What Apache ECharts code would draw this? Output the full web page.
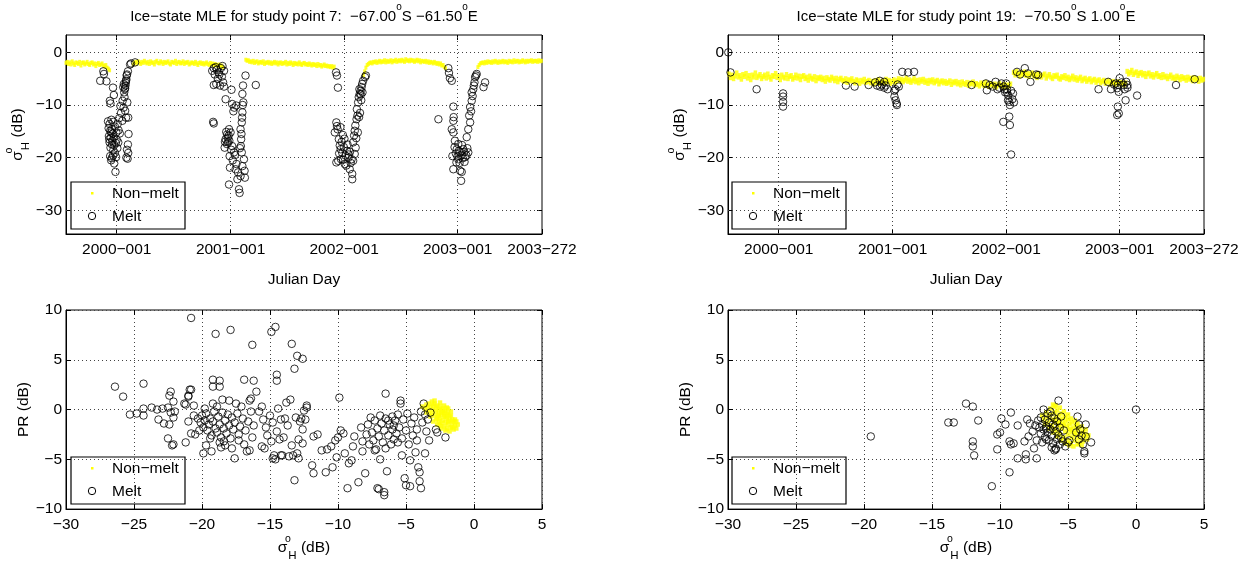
<!DOCTYPE html>
<html>
<head>
<meta charset="utf-8">
<script src="https://cdn.jsdelivr.net/npm/echarts@6/dist/echarts.min.js"></script>
<style>
  html, body { margin: 0; padding: 0; background: #fff; }
  #chart { width: 1247px; height: 563px; }
</style>
</head>
<body>
<div id="chart"></div>
<script>
// ---------- shared axis ticks ----------
// time axis in days counted from 2000-001
const yearTickDays = [0, 366, 731, 1096, 1367];
const yearTickLabels = ['2000−001', '2001−001', '2002−001', '2003−001', '2003−272'];
const dayRange = [-163, 1367];
const sigmaTicks = [-30, -20, -10, 0];
const sigmaRange = [-34.5, 3.3];
const sigmaScatterRange = [-30, 5];
const prRange = [-10, 10];

// ---------- study point 7: -67.00°S -61.50°E ----------
// non-melt sigma0_H, one value every 4 days, in runs starting at the given days
const p7NonMeltStart = [-163, 53, 415, 793, 1161];
const p7NonMeltStep = 4;
const p7NonMelt = [
  [-2.0,-1.8,-2.2,-1.9,-2.3,-1.7,-2.1,-2.4,-1.9,-2.0,-2.2,-1.8,-2.5,-2.0,-1.9,-2.3,-2.1,-1.8,-2.2,-2.4,
   -2.0,-1.9,-2.3,-2.1,-2.6,-2.2,-2.0,-2.4,-2.3,-2.1,-2.5,-2.7,-2.4,-2.9,-3.1,-3.4],
  [-2.3,-2.0,-1.8,-2.1,-1.7,-1.9,-2.2,-1.8,-2.0,-1.6,-1.9,-2.1,-1.8,-2.2,-1.7,-2.0,-1.9,-2.3,-1.8,-1.6,
   -2.0,-2.1,-1.7,-1.9,-2.2,-1.8,-2.0,-1.9,-1.7,-2.1,-2.3,-1.8,-1.9,-2.0,-1.6,-2.2,-1.9,-1.8,-2.1,-2.0,
   -1.7,-2.2,-1.9,-2.0,-1.8,-2.3,-2.1,-1.9,-2.0,-2.2,-1.8,-2.1,-2.4,-2.0,-1.9,-2.2,-2.0,-2.3,-2.1,-1.9,
   -2.2,-2.4,-2.0,-2.3,-2.1,-2.5,-2.2,-2.4,-2.6,-2.3,-2.7,-2.5,-2.8],
  [-1.4,-1.6,-1.5,-1.8,-1.7,-1.9,-1.6,-2.0,-1.8,-1.7,-2.1,-1.9,-1.8,-2.0,-1.7,-2.2,-1.9,-2.0,-1.8,-2.1,
   -1.9,-2.2,-2.0,-1.8,-2.1,-1.9,-2.3,-2.0,-1.9,-2.2,-2.0,-2.1,-1.8,-2.3,-2.0,-2.2,-1.9,-2.1,-2.4,-2.0,
   -2.2,-2.1,-2.3,-1.9,-2.2,-2.4,-2.1,-2.0,-2.3,-2.2,-2.4,-2.1,-2.3,-2.5,-2.2,-2.4,-2.3,-2.6,-2.2,-2.5,
   -2.4,-2.7,-2.5,-2.3,-2.6,-2.5,-2.7,-2.6,-2.8,-2.6,-2.9,-2.7],
  [-4.3,-3.6,-2.9,-2.4,-2.2,-2.0,-1.9,-2.1,-1.8,-1.9,-1.7,-2.0,-1.8,-1.6,-1.9,-1.7,-1.8,-1.5,-1.9,-1.6,
   -1.8,-1.7,-1.5,-1.9,-1.6,-1.7,-1.4,-1.8,-1.6,-1.5,-1.7,-1.4,-1.6,-1.8,-1.3,-1.6,-1.5,-1.7,-1.4,-1.6,
   -1.5,-1.8,-1.6,-1.4,-1.7,-1.5,-1.9,-1.6,-1.7,-1.8,-1.6,-1.9,-1.7,-2.0,-1.8,-1.9,-2.1,-1.8,-2.0,-2.2,
   -2.0,-2.3,-2.1,-2.5,-2.4,-2.8,-3.0],
  [-2.8,-2.4,-2.1,-2.0,-1.9,-2.1,-1.8,-2.0,-1.7,-1.9,-1.8,-2.0,-1.7,-1.9,-1.6,-1.8,-2.0,-1.7,-1.9,-1.8,
   -1.6,-1.9,-1.7,-1.8,-2.0,-1.6,-1.8,-1.7,-1.9,-1.5,-1.8,-1.7,-1.6,-1.9,-1.7,-1.8,-1.5,-1.7,-1.9,-1.6,
   -1.8,-1.6,-1.7,-1.5,-1.8,-1.6,-1.7,-1.6,-1.8,-1.5,-1.7,-1.6]
];
// melt observations: [day, sigma0_H]
const p7Melt = [
  [-43,-3.6],[-41,-4.1],[-53,-5.4],[-33,-5.5],[-12,-6.7],[-9,-8.1],[-22,-9.2],[-20,-9.7],[-28,-13.1],[-23,-13.6],
  [-17,-12.8],[-26,-14.4],[-21,-14.9],[-16,-14.6],[-11,-13.2],[-13,-15.4],[-25,-15.9],[-19,-16.2],[-9,-16.1],[-6,-14.1],
  [-23,-17.1],[-15,-17.5],[-3,-17.2],[-1,-15.2],[-20,-18.1],[-11,-18.6],[-6,-19.1],[-21,-19.7],[-16,-20.1],[-12,-19.6],
  [-8,-21.1],[-4,-22.7],[2,-18.2],[5,-17.1],[3,-13.6],[8,-12.5],[-18,-15.2],[-14,-16.8],[-8,-17.6],[-24,-16.5],
  [-2,-19.9],[-18,-20.5],[6,-14.8],[0,-16.6],[10,-15.4],[35,-20.2],[37,-19.1],[36,-17.5],[38,-15.5],[37,-12.4],
  [34,-9.5],[31,-20.0],[33,-18.5],[30,-12.4],[27,-11.1],[19,-9.2],[24,-7.6],[28,-6.3],[30,-5.4],[32,-4.4],
  [22,-10.5],[25,-8.5],[26,-7.0],[27,-6.8],[29,-5.8],[31,-5.1],[33,-4.2],[36,-3.6],[43,-2.3],[46,-2.1],
  [59,-1.9],[21,-6.6],[23,-6.0],[18,-13.0],[14,-11.5],[12,-10.2],
  [307,-3.5],[312,-3.0],[318,-2.8],[322,-3.3],[328,-3.8],[335,-3.0],[340,-2.6],[345,-3.5],[330,-4.2],[315,-4.2],
  [325,-5.0],[338,-4.6],[342,-5.7],[320,-6.0],[332,-6.3],[345,-6.5],[312,-6.2],[350,-8.9],[369,-7.1],[371,-9.8],
  [375,-11.2],[310,-13.2],[312,-13.5],[361,-14.6],[355,-15.6],[350,-16.5],[347,-18.1],[358,-17.1],[366,-15.2],[371,-17.8],
  [377,-19.0],[363,-19.7],[364,-21.9],[361,-25.1],[382,-22.2],[388,-24.1],[393,-26.0],[395,-26.7],[398,-23.5],[404,-21.6],
  [409,-20.3],[411,-22.5],[412,-23.8],[352,-15.1],[357,-16.2],[360,-15.8],[354,-17.4],[362,-16.8],[368,-18.5],[373,-20.5],
  [380,-19.5],[385,-21.2],[390,-22.8],[348,-17.0],[406,-6.3],[404,-7.9],[407,-9.5],[404,-11.4],[402,-13.3],[398,-14.6],
  [400,-16.5],[414,-4.4],[447,-6.2],[405,-10.0],[403,-12.4],[401,-15.5],[399,-17.8],[402,-19.0],[396,-18.2],[384,-10.1],
  [378,-10.5],
  [705,-3.8],[708,-4.4],[711,-6.7],[706,-13.3],[710,-14.6],[701,-15.2],[714,-16.5],[717,-17.7],[712,-20.6],[706,-20.9],
  [721,-20.3],[733,-21.2],[749,-22.2],[757,-23.1],[757,-24.1],[755,-20.3],[765,-19.3],[720,-18.4],[725,-19.1],[730,-18.0],
  [735,-19.6],[740,-18.7],[745,-20.0],[728,-20.4],[738,-21.5],[742,-17.5],[750,-18.9],[723,-17.0],[732,-16.4],[746,-19.4],
  [752,-21.0],[715,-19.2],[760,-20.6],[727,-15.7],[719,-14.2],[708,-14.0],[760,-17.1],[763,-15.8],[765,-14.9],[767,-13.9],
  [771,-12.7],[774,-12.0],[772,-10.8],[776,-9.5],[778,-8.5],[781,-7.9],[784,-7.3],[787,-6.6],[789,-6.0],[792,-5.4],
  [798,-4.7],[801,-4.4],[779,-12.3],[782,-11.5],[785,-8.0],[780,-7.0],[786,-9.1],[790,-7.6],[775,-15.2],[770,-16.3],
  [768,-18.1],
  [1066,-3.0],[1068,-3.9],[1071,-4.9],[1077,-5.4],[1082,-10.3],[1034,-12.7],[1082,-13.0],[1077,-14.6],[1082,-15.2],[1087,-16.8],
  [1098,-17.4],[1093,-18.4],[1104,-19.0],[1114,-18.4],[1130,-19.0],[1120,-19.9],[1098,-20.3],[1082,-22.2],[1104,-22.5],[1109,-22.7],
  [1107,-24.4],[1090,-19.2],[1095,-19.8],[1100,-18.7],[1108,-19.5],[1112,-20.1],[1117,-18.9],[1124,-19.6],[1127,-18.2],[1102,-21.0],
  [1092,-20.9],[1086,-18.0],[1110,-17.6],[1118,-20.8],[1079,-19.7],[1125,-16.1],[1130,-14.6],[1136,-13.3],[1133,-12.0],[1136,-10.4],
  [1141,-9.2],[1141,-7.6],[1146,-7.0],[1150,-5.7],[1152,-4.7],[1157,-4.1],[1179,-6.6],[1184,-5.7],[1144,-8.3],[1148,-6.3],
  [1139,-11.2],[1155,-4.4],[1083,-12.3]
];
// non-melt cloud in the sigma0_H / PR plane: [sigma0_H, PR]
const p7NonMeltPR = [
  [-3.5,0.5],[-3.4,0.2],[-3.3,0.6],[-3.2,0.3],[-3.1,0.8],[-3.0,0.4],[-3.0,0.0],[-3.3,-0.2],[-3.1,-0.4],[-2.9,0.6],
  [-2.8,0.2],[-2.8,-0.2],[-2.9,-0.6],[-2.7,0.4],[-2.6,0.0],[-2.6,-0.4],[-2.7,-0.8],[-2.5,0.3],[-2.4,-0.1],[-2.4,-0.5],
  [-2.5,-0.9],[-2.6,-1.2],[-2.3,0.1],[-2.2,-0.3],[-2.2,-0.7],[-2.3,-1.1],[-2.4,-1.4],[-2.1,-0.1],[-2.0,-0.5],[-2.0,-0.9],
  [-2.1,-1.3],[-2.2,-1.7],[-1.9,-0.3],[-1.8,-0.7],[-1.8,-1.1],[-1.9,-1.5],[-2.0,-1.9],[-1.7,-0.6],[-1.6,-1.0],[-1.6,-1.4],
  [-1.7,-1.8],[-1.5,-1.2],[-1.4,-1.6],[-1.5,-2.0],[-1.3,-1.9],[-1.4,-1.0],[-2.8,-1.0],[-3.2,-0.7],[-3.6,0.1],[-3.5,-0.3],
  [-2.9,0.9],[-2.5,0.7],[-2.2,0.4],[-1.9,0.1],[-1.7,-0.2],[-2.7,-1.5],[-2.4,-1.9],[-2.1,-2.1],[-1.8,-2.2],[-1.6,-1.8],
  [-3.0,-1.2],[-2.0,0.2],[-2.3,-0.3],[-2.6,-0.6],[-2.1,-0.7],[-1.9,-1.2],[-2.5,-1.6],[-1.2,-1.5],[-1.3,-1.2],[-3.8,0.3]
];
// melt observations in the sigma0_H / PR plane: [sigma0_H, PR]
const p7MeltPR = [
  [-26.4,2.3],[-25.8,1.3],[-24.3,2.6],[-25.3,-0.5],[-24.8,-0.4],[-24.3,0.1],[-24.3,-0.6],[-23.7,0.2],[-23.3,0.0],[-22.9,0.1],
  [-22.5,0.2],[-23.2,-1.0],[-22.8,-1.4],[-22.4,-1.5],[-22.1,-0.8],[-22.3,-0.3],[-22.0,-0.2],[-22.4,1.4],[-22.3,1.8],[-22.1,0.8],
  [-22.5,-2.9],[-22.2,-3.6],[-22.1,-3.5],[-21.2,-3.3],[-21.0,1.4],[-21.2,0.5],[-20.9,2.0],[-21.0,-1.2],[-21.3,0.6],[-20.8,-2.4],
  [-20.5,-2.5],[-20.6,-0.6],[-20.6,0.4],
  [-20.3,-0.9],[-20.1,-1.3],[-20.0,-0.6],[-19.9,-1.8],[-19.8,-1.1],[-19.7,-0.4],[-19.6,-2.1],[-19.5,-1.5],[-19.4,-0.9],[-19.3,-2.6],
  [-19.2,-1.2],[-19.1,-0.2],[-19.0,-1.9],[-18.9,-2.3],[-18.8,-0.7],[-18.7,-1.5],[-18.6,-2.8],[-18.5,-0.3],[-18.4,-1.9],[-18.3,-1.1],
  [-18.2,-2.4],[-18.1,-0.5],[-18.0,-1.6],[-17.9,-2.9],[-17.8,-0.8],[-17.7,-2.0],[-17.6,-1.3],[-17.4,-0.4],[-17.3,-2.5],[-17.2,-1.7],
  [-17.0,-0.9],[-16.9,-3.5],[-16.8,-2.1],[-16.6,-1.2],[-16.5,-4.1],[-16.4,-0.2],[-16.3,-2.8],[-16.2,-1.6],
  [-20.2,-2.1],[-19.8,0.1],[-19.4,-2.9],[-19.2,0.6],[-18.9,0.3],[-18.7,-3.3],[-18.5,1.0],[-18.3,-3.6],[-18.0,0.9],[-17.8,-3.9],
  [-17.5,0.6],[-17.3,-3.1],[-17.1,0.3],[-16.7,-4.2],[-16.5,0.9],[-19.7,-3.6],[-19.9,-4.4],[-19.3,-4.2],[-18.6,-3.8],[-17.6,-4.9],
  [-18.4,-3.2],
  [-20.8,9.2],[-19.0,7.6],[-17.9,8.0],[-16.3,6.5],[-14.9,7.8],[-14.6,8.3],[-13.4,6.6],[-13.0,5.4],[-12.6,5.1],[-13.2,4.1],
  [-19.2,3.0],[-18.7,2.9],[-19.2,2.3],[-18.7,2.3],[-16.9,3.0],[-16.2,2.9],[-14.5,3.5],[-14.5,2.9],[-16.0,1.8],[-16.4,1.1],
  [-20.8,2.0],[-21.0,1.3],
  [-15.8,-0.2],[-15.6,0.3],[-15.5,-1.0],[-15.3,-1.8],[-15.2,-2.6],[-15.0,-0.6],[-14.9,-3.2],[-14.8,-1.3],[-14.7,-4.6],[-14.6,-5.0],
  [-14.5,-2.2],[-14.4,0.1],[-14.3,-3.0],[-14.2,-1.0],[-14.1,-4.6],[-14.0,-2.8],[-13.9,-0.9],[-13.8,0.7],[-13.7,-1.6],[-13.5,1.0],
  [-13.4,-3.6],[-13.3,-4.6],[-13.2,-7.1],[-13.1,-0.8],[-13.0,-4.4],[-12.9,-3.0],[-12.8,-1.2],[-12.7,-0.9],[-12.6,-3.4],[-12.5,-0.1],
  [-12.4,-1.0],[-12.3,0.4],[-12.3,0.2],[-12.6,-2.0],[-15.6,-3.7],[-15.4,-3.9],[-14.8,-4.9],[-14.2,-4.6],[-13.6,-4.7],[-12.9,-4.9],
  [-11.8,-2.7],[-11.9,-5.6],[-11.8,-6.4],[-11.5,-2.5],[-11.2,-4.1],[-10.9,-6.3],[-10.8,-4.0],[-10.5,-3.7],[-10.4,-5.8],[-10.2,-3.1],
  [-10.0,-2.8],[-10.1,-4.8],[-9.9,1.2],[-9.8,-2.1],[-9.6,-2.4],[-9.5,-4.4],[-9.3,-7.9],[-9.2,-5.4],[-9.0,-5.1],[-8.9,-3.7],
  [-8.8,-2.7],[-8.5,-7.3],[-8.3,-1.8],[-8.2,-3.2],[-8.0,-6.4],[-8.2,-4.2],
  [-7.8,-1.5],[-7.6,-0.8],[-7.5,-2.3],[-7.4,-3.1],[-7.3,-1.1],[-7.2,-4.0],[-7.1,-1.9],[-7.0,-2.7],[-6.9,-0.6],[-6.9,-5.0],
  [-6.8,-1.4],[-6.7,-3.3],[-6.6,-2.1],[-6.5,1.6],[-6.5,-0.9],[-6.4,-6.2],[-6.3,-2.6],[-6.2,-1.5],[-6.1,-3.5],[-6.0,-0.7],
  [-6.0,-2.0],[-5.9,-3.0],[-5.8,-1.1],[-5.7,-2.4],[-5.6,-0.5],[-5.5,-1.8],[-5.4,0.9],[-5.4,0.6],[-5.3,-2.9],[-5.3,-4.6],
  [-5.2,-1.0],[-5.1,-6.9],[-5.0,-7.6],[-5.0,-2.1],[-4.9,-0.4],[-4.8,-3.5],[-4.7,-7.7],[-4.7,-5.1],[-4.6,-1.4],[-4.5,-2.6],
  [-4.4,-0.8],[-4.3,-4.3],[-4.2,-2.0],[-4.1,-5.8],[-4.0,-6.3],[-4.0,-7.2],[-3.9,-7.9],[-3.9,-0.2],[-3.8,-1.3],[-3.7,0.6],
  [-3.6,-0.5],[-3.5,-2.2],[-3.4,-1.0],[-3.3,-3.1],[-3.2,-0.3],[-2.8,-2.0],[-2.7,-2.3],[-2.1,-2.8],[-7.0,-8.0],[-6.6,-8.6],
  [-6.6,-8.3],[-7.1,-7.9],[-7.7,-3.5],[-7.9,-2.5],[-6.3,-1.1],[-5.9,-1.6],[-6.5,-3.9],[-7.3,-4.1],[-5.6,-3.3],[-3.6,-4.4],
  [-4.2,-3.1]
];

// ---------- study point 19: -70.50°S 1.00°E ----------
const p19NonMeltStart = [-160, 755, 1120];
const p19NonMeltStep = 5;
const p19NonMelt = [
  [-4.1,-4.8,-4.3,-5.0,-4.5,-3.9,-4.7,-4.4,-5.1,-4.2,-4.6,-4.0,-4.9,-4.4,-5.2,-4.3,-4.7,-3.9,-4.8,-4.5,
   -4.2,-5.0,-4.6,-4.3,-4.9,-4.1,-4.7,-5.1,-4.4,-4.6,-4.0,-4.8,-4.5,-5.2,-4.3,-4.7,-4.9,-4.2,-5.0,-4.6,
   -4.4,-5.1,-4.8,-4.3,-4.9,-4.5,-5.2,-4.6,-4.4,-5.0,-4.7,-5.3,-4.5,-4.9,-5.1,-4.6,-5.4,-4.8,-5.0,-4.7,
   -5.2,-4.9,-5.5,-4.8,-5.1,-5.3,-4.7,-5.0,-5.4,-4.9,-5.6,-5.1,-4.9,-5.3,-5.5,-5.0,-5.7,-5.2,-5.4,-5.0,
   -5.5,-5.8,-5.2,-5.4,-5.9,-5.3,-5.6,-5.1,-5.7,-5.5,-5.3,-5.8,-5.5,-6.0,-5.4,-5.7,-5.2,-5.9,-5.6,-5.4,
   -5.8,-5.1,-5.6,-5.3,-5.9,-5.5,-5.2,-5.7,-5.4,-5.0,-5.4,-5.1,-5.6,-5.3,-4.9,-5.5,-5.2,-5.7,-5.4,-5.0,
   -5.6,-5.3,-5.8,-5.2,-5.5,-5.1,-5.7,-5.4,-5.9,-5.3,-5.6,-5.2,-5.8,-5.5,-5.3,-6.0,-5.6,-5.4,-5.8,-5.5,
   -5.9,-5.7,-5.4,-6.1,-5.6,-5.8,-5.5,-6.0,-5.7,-6.2,-5.6,-5.9,-6.1,-5.7,-6.3,-5.8,-6.0,-5.6,-6.2,-5.9,
   -6.1,-6.4,-5.8,-6.0,-6.3,-5.7,-6.2,-6.5,-5.9,-6.1,-6.4,-6.0,-6.6,-6.2,-5.9,-6.3,-6.5,-6.1,-6.7,-6.2,
   -6.4,-6.0],
  [-3.8,-4.3,-3.6,-4.1,-4.5,-3.9,-4.2,-3.7,-4.4,-4.0,-4.6,-4.1,-3.9,-4.5,-4.2,-4.8,-4.0,-4.4,-4.7,-4.3,
   -4.1,-4.9,-4.5,-4.2,-4.7,-5.0,-4.4,-4.6,-4.3,-4.9,-5.1,-4.6,-4.8,-4.4,-5.0,-4.7,-5.2,-4.9,-4.5,-5.1,
   -4.8,-5.3,-5.0,-4.7,-5.4,-5.1,-4.9,-5.5,-5.2,-5.0,-5.6,-5.3,-5.1,-5.7,-5.4,-5.2,-5.8,-5.5,-5.3,-5.9,
   -5.6,-5.4,-6.0,-5.7,-5.5,-6.1,-5.8,-5.6,-6.0,-5.7,-5.9,-6.2,-5.8],
  [-3.6,-4.1,-3.8,-3.4,-4.2,-3.9,-3.7,-4.4,-4.0,-3.8,-4.3,-4.0,-4.6,-4.1,-3.9,-4.5,-4.2,-4.7,-4.3,-4.0,
   -4.6,-4.4,-4.8,-4.2,-4.7,-4.5,-5.0,-4.6,-4.3,-4.9,-4.7,-5.1,-4.5,-4.8,-5.2,-4.6,-5.0,-4.8,-5.3,-4.7,
   -5.1,-4.9,-5.4,-4.8,-5.2,-5.0,-5.5,-4.9,-5.3,-5.1]
];
const p19Melt = [
  [-162,0.0],[-155,-3.8],[-71,-7.0],[14,-7.8],[14,-8.4],[14,-9.4],[14,-10.3],[216,-6.3],[244,-6.5],[289,-6.2],
  [310,-5.7],[316,-6.3],[325,-5.4],[331,-6.1],[339,-5.6],[344,-6.3],[339,-6.7],[350,-7.0],[326,-6.5],[372,-7.3],
  [375,-7.0],[376,-9.1],[379,-9.7],[380,-10.0],[382,-6.1],[386,-6.5],[372,-8.4],[397,-3.7],[416,-3.8],[435,-3.7],
  [620,-6.2],[666,-5.9],[669,-7.2],[678,-6.2],[688,-6.5],[697,-5.6],[703,-7.0],[709,-6.7],[716,-5.9],[722,-6.5],
  [726,-7.0],[731,-5.9],[734,-7.6],[738,-8.2],[741,-9.4],[743,-10.0],[747,-7.3],[751,-8.9],[753,-7.8],[756,-9.5],
  [722,-13.2],[741,-12.2],[743,-13.8],[747,-19.4],[734,-7.0],[728,-7.6],[737,-9.1],[766,-3.7],[776,-4.2],[791,-3.0],
  [801,-4.0],[809,-5.6],[828,-4.2],[834,-4.3],
  [1028,-7.0],[1059,-5.6],[1068,-7.0],[1078,-6.1],[1084,-5.9],[1088,-6.8],[1090,-6.2],[1090,-10.3],[1088,-11.9],[1093,-11.6],
  [1096,-4.9],[1102,-5.7],[1109,-6.2],[1112,-7.0],[1115,-9.1],[1117,-5.6],[1121,-6.2],[1121,-6.7],[1152,-8.2],[1093,-7.5],
  [1277,-6.2],[1337,-5.1]
];
const p19NonMeltPR = [
  [-6.9,-0.6],[-6.8,-1.0],[-6.6,-0.3],[-6.5,-0.8],[-6.5,-1.3],[-6.3,0.1],[-6.3,-0.5],[-6.2,-1.0],[-6.2,-1.6],[-6.0,0.3],
  [-6.0,-0.3],[-5.9,-0.8],[-5.9,-1.3],[-6.0,-1.9],[-5.8,-0.1],[-5.7,-0.6],[-5.6,-1.1],[-5.7,-1.6],[-5.8,-2.2],[-5.5,-0.4],
  [-5.4,-0.9],[-5.4,-1.4],[-5.5,-1.9],[-5.6,-2.5],[-5.2,-0.7],[-5.2,-1.2],[-5.1,-1.7],[-5.2,-2.2],[-5.3,-2.8],[-5.0,-1.0],
  [-4.9,-1.5],[-4.9,-2.0],[-5.0,-2.5],[-5.0,-3.1],[-4.7,-1.3],[-4.6,-1.8],[-4.7,-2.3],[-4.7,-2.8],[-4.8,-3.4],[-4.4,-1.6],
  [-4.4,-2.1],[-4.4,-2.6],[-4.5,-3.1],[-4.2,-1.9],[-4.1,-2.4],[-4.2,-2.9],[-4.2,-3.4],[-3.9,-2.2],[-3.9,-2.7],[-3.9,-3.2],
  [-3.7,-2.5],[-3.6,-3.0],[-3.5,-2.6],[-6.1,0.5],[-5.9,0.4],[-5.6,0.2],[-5.3,-0.2],[-5.0,-0.5],[-4.8,-0.9],[-4.5,-1.1],
  [-4.3,-1.4],[-6.4,-1.9],[-6.1,-2.3],[-5.8,-2.7],[-5.5,-3.1],[-5.2,-3.4],[-4.9,-3.6],[-4.6,-3.7],[-4.3,-3.5],[-4.0,-3.6],
  [-6.7,-1.5],[-5.3,-1.6],[-4.8,-2.0],[-5.6,-1.4],[-4.5,-2.4],[-6.0,-1.1],[-4.0,-1.7],[-3.7,-2.0]
];
const p19MeltPR = [
  [-19.5,-2.7],[-12.5,0.6],[-12.0,0.3],[-13.8,-1.3],[-13.4,-1.3],[-11.6,-1.1],[-12.0,-3.2],[-12.0,-3.7],[-11.9,-4.6],[-10.6,-7.7],
  [-9.3,-6.3],[-10.2,-4.0],[-10.2,-2.5],[-10.0,-2.3],[-9.9,-0.9],[-9.6,-1.5],[-9.2,-0.3],[-9.3,-3.2],[-9.2,-3.5],[-9.0,-3.4],
  [-8.7,-1.6],[-8.7,-4.9],[-8.2,-3.2],[-8.1,-4.5],[-8.1,-5.0],[-8.0,-1.0],[-7.8,-1.4],[-7.6,-2.2],[-7.5,-3.9],[-7.3,-4.9],
  [-7.2,-1.1],[-7.1,-1.8],[-7.0,-0.8],[-7.0,-2.4],[-6.9,-1.5],[-6.8,0.0],[-6.8,-2.0],[-6.7,-1.0],[-6.7,-2.8],[-6.6,-1.7],
  [-6.5,-0.4],[-6.5,-2.3],[-6.4,-1.3],[-6.4,-3.1],[-6.3,-0.2],[-6.3,-2.0],[-6.2,-0.6],[-6.2,-2.6],[-6.1,-1.5],[-6.1,-3.4],
  [-6.0,-0.9],[-6.0,-4.1],[-5.9,-2.2],[-5.9,-3.9],[-5.8,-1.2],[-5.8,-3.0],[-5.7,0.9],[-5.7,-2.6],[-5.6,-1.8],[-5.6,-3.5],
  [-5.5,-2.9],[-5.5,-0.7],[-5.4,-3.2],[-5.3,-2.1],[-5.2,-3.7],[-5.0,-3.3],[-4.9,-3.1],[-6.6,-3.0],[-6.9,-3.3],[-7.3,-3.1],
  [-4.3,-0.7],[-4.2,-1.5],[-4.1,-2.0],[-4.0,-2.6],[-3.9,-3.5],[-3.8,-4.2],[-3.8,-4.4],[-3.7,-1.5],[-3.7,-2.7],[-3.3,-3.3],
  [-4.4,-2.3],[-4.2,-3.0],[0.0,0.0],[-7.4,-1.6],[-7.9,-2.7],[-6.2,-3.8],[-5.9,-4.0],[-6.0,-1.7],[-6.6,-1.9]
];

// ---------- helpers ----------
const FONT = "'Liberation Sans', Arial, Helvetica, sans-serif";
const FS = 15.5;
const INK = '#000';
const YELLOW = '#ffff00';
const GRID_DOTS = { color: '#444', type: [1, 3], width: 1 };

// expand the regularly sampled runs into [day, value] points
function sampledRuns(starts, step, runs) {
  const pts = [];
  runs.forEach((vals, r) => vals.forEach((v, i) => pts.push([starts[r] + i * step, v])));
  return pts;
}
const minus = v => String(v).replace('-', '−');

const gridBoxes = [
  { left: 66,  top: 35,  width: 476, height: 199 },
  { left: 728, top: 35,  width: 476, height: 199 },
  { left: 66,  top: 310, width: 476, height: 200 },
  { left: 728, top: 310, width: 476, height: 200 }
];

const labelStyle = { color: INK, fontFamily: FONT, fontSize: FS, fontWeight: 'normal' };
const sigmaName = '{s|σ}{o|o}{h|H}{s| (dB)}';
const sigmaRich = {
  s: { fontFamily: FONT, fontSize: FS, color: INK, lineHeight: 28, verticalAlign: 'middle' },
  o: { fontFamily: FONT, fontSize: 10.5, color: INK, lineHeight: 11, verticalAlign: 'top', width: 1 },
  h: { fontFamily: FONT, fontSize: 11.5, color: INK, lineHeight: 12, verticalAlign: 'bottom' }
};

function tickCfg(custom) {
  const t = { show: true, inside: true, length: 5, lineStyle: { color: INK, width: 1 } };
  if (custom) t.customValues = custom;
  return t;
}
const axisLineCfg = { show: true, onZero: false, lineStyle: { color: INK, width: 1 } };

const xAxes = [];
const yAxes = [];
// top row: time series
[0, 1].forEach(g => {
  xAxes.push({
    type: 'value', gridIndex: g, min: dayRange[0], max: dayRange[1], position: 'bottom',
    name: 'Julian Day', nameLocation: 'middle', nameGap: 38, nameTextStyle: labelStyle,
    axisLine: axisLineCfg,
    axisTick: tickCfg(yearTickDays),
    axisLabel: Object.assign({ customValues: yearTickDays, margin: 8,
      formatter: v => yearTickLabels[yearTickDays.indexOf(v)] }, labelStyle),
    splitLine: { show: false }
  });
  xAxes.push({
    type: 'value', gridIndex: g, min: dayRange[0], max: dayRange[1], position: 'top',
    axisLine: { show: false, onZero: false }, axisTick: tickCfg(yearTickDays),
    axisLabel: { show: false }, splitLine: { show: false }
  });
  yAxes.push({
    type: 'value', gridIndex: g, min: sigmaRange[0], max: sigmaRange[1], position: 'left',
    name: sigmaName, nameLocation: 'middle', nameGap: 33, nameRotate: 90,
    nameTextStyle: { rich: sigmaRich },
    axisLine: axisLineCfg,
    axisTick: tickCfg(sigmaTicks),
    axisLabel: Object.assign({ customValues: sigmaTicks, margin: 4, formatter: minus }, labelStyle),
    splitLine: { show: false }
  });
  yAxes.push({
    type: 'value', gridIndex: g, min: sigmaRange[0], max: sigmaRange[1], position: 'right',
    axisLine: { show: false, onZero: false }, axisTick: tickCfg(sigmaTicks),
    axisLabel: { show: false }, splitLine: { show: false }
  });
});
// bottom row: sigma0_H against PR
[2, 3].forEach(g => {
  xAxes.push({
    type: 'value', gridIndex: g, min: sigmaScatterRange[0], max: sigmaScatterRange[1], interval: 5, position: 'bottom',
    name: sigmaName, nameLocation: 'middle', nameGap: 22, nameTextStyle: { rich: sigmaRich },
    axisLine: axisLineCfg,
    axisTick: tickCfg(),
    axisLabel: Object.assign({ margin: 8, formatter: minus }, labelStyle),
    splitLine: { show: true, lineStyle: GRID_DOTS }
  });
  xAxes.push({
    type: 'value', gridIndex: g, min: sigmaScatterRange[0], max: sigmaScatterRange[1], interval: 5, position: 'top',
    axisLine: { show: false, onZero: false }, axisTick: tickCfg(), axisLabel: { show: false }, splitLine: { show: false }
  });
  yAxes.push({
    type: 'value', gridIndex: g, min: prRange[0], max: prRange[1], interval: 5, position: 'left',
    name: 'PR (dB)', nameLocation: 'middle', nameGap: 33, nameRotate: 90, nameTextStyle: labelStyle,
    axisLine: axisLineCfg,
    axisTick: tickCfg(),
    axisLabel: Object.assign({ margin: 4, formatter: minus }, labelStyle),
    splitLine: { show: true, lineStyle: GRID_DOTS }
  });
  yAxes.push({
    type: 'value', gridIndex: g, min: prRange[0], max: prRange[1], interval: 5, position: 'right',
    axisLine: { show: false, onZero: false }, axisTick: tickCfg(), axisLabel: { show: false }, splitLine: { show: false }
  });
});

// dotted grid of the time-series panels
const timeGridLines = {
  silent: true, symbol: ['none', 'none'], label: { show: false }, animation: false,
  lineStyle: GRID_DOTS, emphasis: { disabled: true },
  data: yearTickDays.slice(0, 4).map(d => ({ xAxis: d })).concat(sigmaTicks.map(v => ({ yAxis: v })))
};

function nonMeltSeries(g, data, size, withGrid) {
  const s = {
    type: 'scatter', name: 'Non−melt', xAxisIndex: g * 2, yAxisIndex: g * 2, data,
    symbol: 'rect', symbolSize: size, itemStyle: { color: YELLOW }, silent: true, z: 2
  };
  if (withGrid) s.markLine = timeGridLines;
  return s;
}
function meltSeries(g, data) {
  return {
    type: 'scatter', name: 'Melt', xAxisIndex: g * 2, yAxisIndex: g * 2, data,
    symbol: 'circle', symbolSize: 7.5, silent: true, z: 3,
    itemStyle: { color: 'rgba(0,0,0,0)', borderColor: INK, borderWidth: 1 }
  };
}

const series = [
  nonMeltSeries(0, sampledRuns(p7NonMeltStart, p7NonMeltStep, p7NonMelt), [3, 4], true),
  meltSeries(0, p7Melt),
  nonMeltSeries(1, sampledRuns(p19NonMeltStart, p19NonMeltStep, p19NonMelt), [3.5, 5], true),
  meltSeries(1, p19Melt),
  nonMeltSeries(2, p7NonMeltPR, 4.5, false),
  meltSeries(2, p7MeltPR),
  nonMeltSeries(3, p19NonMeltPR, 4.5, false),
  meltSeries(3, p19MeltPR)
];

// legend boxes drawn as graphic groups
function legendBox(x, y) {
  const txt = (t, ty) => ({
    type: 'text', x: 41, y: ty,
    style: { text: t, fontFamily: FONT, fontSize: FS, fill: INK, verticalAlign: 'middle', align: 'left' }
  });
  return {
    type: 'group', x, y, z: 50,
    children: [
      { type: 'rect', shape: { x: 0, y: 0, width: 114, height: 47 }, style: { fill: '#fff', stroke: INK, lineWidth: 1.2 } },
      { type: 'rect', shape: { x: 20, y: 10, width: 2.5, height: 2.5 }, style: { fill: YELLOW } },
      txt('Non−melt', 12),
      { type: 'circle', shape: { cx: 21, cy: 34, r: 3.7 }, style: { fill: 'none', stroke: INK, lineWidth: 1 } },
      txt('Melt', 35)
    ]
  };
}

const titleRich = {
  t: { fontFamily: FONT, fontSize: 15, fontWeight: 'normal', color: INK, lineHeight: 22, verticalAlign: 'bottom' },
  sup: { fontFamily: FONT, fontSize: 10, fontWeight: 'normal', color: INK, lineHeight: 10, verticalAlign: 'top' }
};
const titles = [
  { text: '{t|Ice−state MLE for study point 7:  −67.00}{sup|o}{t|S −61.50}{sup|o}{t|E}', left: 304 },
  { text: '{t|Ice−state MLE for study point 19:  −70.50}{sup|o}{t|S 1.00}{sup|o}{t|E}', left: 966 }
].map(t => ({ text: t.text, left: t.left, top: 2, textAlign: 'center', padding: 0,
              textStyle: { fontWeight: 'normal', rich: titleRich } }));

const chart = echarts.init(document.getElementById('chart'), null, { renderer: 'canvas' });
chart.setOption({
  animation: false,
  backgroundColor: '#fff',
  title: titles,
  grid: gridBoxes.map(b => Object.assign({ show: true, borderColor: INK, borderWidth: 1, backgroundColor: '#fff', containLabel: false }, b)),
  xAxis: xAxes,
  yAxis: yAxes,
  series,
  graphic: [legendBox(71, 182), legendBox(732, 182), legendBox(71, 457), legendBox(732, 457)]
});
</script>
</body>
</html>
